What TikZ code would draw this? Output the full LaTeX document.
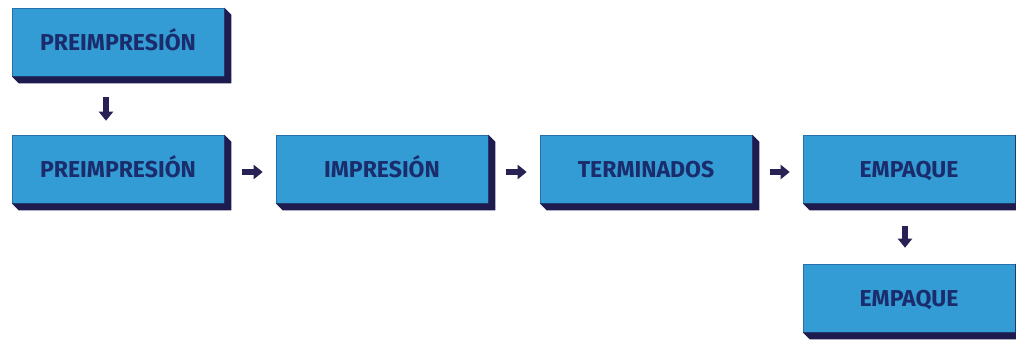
\documentclass[tikz,border=0pt]{standalone}
\usepackage{fontspec}
\setmainfont{Fira Sans}
\usetikzlibrary{arrows.meta}
\definecolor{boxface}{RGB}{52,156,212}
\definecolor{boxedge}{RGB}{38,112,172}
\definecolor{boxside}{RGB}{30,28,78}
\definecolor{boxtext}{RGB}{26,44,108}
\definecolor{arrowcol}{RGB}{40,34,84}
\tikzset{
  stepbox/.style={rectangle, fill=boxface, draw=boxedge, line width=0.6pt,
    minimum width=212pt, minimum height=68pt, inner sep=0pt,
    text height=16pt, text depth=0pt,
    text=boxtext, font=\bfseries\fontsize{23}{26}\selectfont},
  flow/.style={draw=arrowcol, line width=6pt,
    -{Triangle[length=9pt,width=14pt]}},
}
\begin{document}
\begin{tikzpicture}[x=1pt,y=-1pt]
  \useasboundingbox (0,0) rectangle (1016,340);
  % process boxes
  \node[stepbox] (pre0) at (118,42)  {PREIMPRESIÓN};
  \node[stepbox] (pre)  at (118,169) {PREIMPRESIÓN};
  \node[stepbox] (imp)  at (382,169) {IMPRESIÓN};
  \node[stepbox] (ter)  at (646,169) {TERMINADOS};
  \node[stepbox] (emp)  at (909,169) {EMPAQUE};
  \node[stepbox] (emp2) at (909,298) {EMPAQUE};
  % dark extruded sides (right and bottom)
  \foreach \n in {pre0,pre,imp,ter,emp,emp2}{
    \fill[boxside] (\n.north east) -- ++(7,7) -- ([shift={(7pt,-7pt)}]\n.south east)
      -- ([shift={(7pt,-7pt)}]\n.south west) -- (\n.south west) -- (\n.south east) -- cycle;
  }
  % flow arrows
  \draw[flow, shorten <=21pt, shorten >=14pt] ([xshift=-12pt]pre0.south) -- ([xshift=-12pt]pre.north);
  \draw[flow, shorten <=18pt, shorten >=13pt] ([yshift=-3pt]pre.east) -- ([yshift=-3pt]imp.west);
  \draw[flow, shorten <=18pt, shorten >=13pt] ([yshift=-3pt]imp.east) -- ([yshift=-3pt]ter.west);
  \draw[flow, shorten <=18pt, shorten >=13pt] ([yshift=-3pt]ter.east) -- ([yshift=-3pt]emp.west);
  \draw[flow, shorten <=23pt, shorten >=16pt] ([xshift=-4pt]emp.south) -- ([xshift=-4pt]emp2.north);
\end{tikzpicture}
\end{document}
